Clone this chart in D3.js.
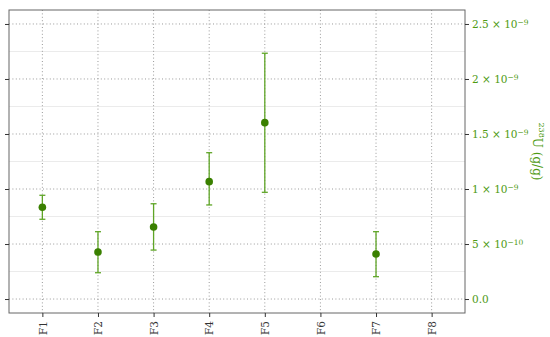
<!DOCTYPE html>
<html><head><meta charset="utf-8">
<script src="https://cdn.jsdelivr.net/npm/d3@7"></script>
<style>body{margin:0;background:#fff}svg{display:block}text{font-family:"DejaVu Serif","Liberation Serif",serif}</style>
</head><body><svg id="c" width="550" height="337"></svg>
<script>
const categories = ["F1","F2","F3","F4","F5","F6","F7","F8"];
const values = [0.834e-9, 0.427e-9, 0.655e-9, 1.067e-9, 1.603e-9, null, 0.409e-9, null];
const upper  = [0.943e-9, 0.612e-9, 0.866e-9, 1.330e-9, 2.234e-9, null, 0.612e-9, null];
const lower  = [0.725e-9, 0.239e-9, 0.445e-9, 0.855e-9, 0.970e-9, null, 0.203e-9, null];
const yTicks = [0, 0.5e-9, 1e-9, 1.5e-9, 2e-9, 2.5e-9];
const yTickMant = ["0.0", "5", "1", "1.5", "2", "2.5"];
const yTickExp  = [null, "−10", "−9", "−9", "−9", "−9"];
const yMinor = [0.25e-9, 0.75e-9, 1.25e-9, 1.75e-9, 2.25e-9];

const svg = d3.select("#c");
const L = 9, R = 465, T = 10, B = 313;
const x = d3.scalePoint().domain(categories).range([L, R]).padding(0.6);
const y = d3.scaleLinear().domain([-0.127e-9, 2.627e-9]).range([B, T]);

const grid = svg.append("g");
grid.selectAll(".mn").data(yMinor).join("line")
  .attr("x1", L).attr("x2", R).attr("y1", d => y(d)).attr("y2", d => y(d))
  .attr("stroke", "#ebebeb").attr("stroke-width", 1);
grid.selectAll(".mj").data(yTicks).join("line")
  .attr("x1", L).attr("x2", R).attr("y1", d => y(d)).attr("y2", d => y(d))
  .attr("stroke", "#9a9a9a").attr("stroke-width", 1).attr("stroke-dasharray", "1,2.4");
grid.selectAll(".vx").data(categories).join("line")
  .attr("x1", d => x(d)).attr("x2", d => x(d)).attr("y1", T).attr("y2", B)
  .attr("stroke", "#9a9a9a").attr("stroke-width", 1).attr("stroke-dasharray", "1,2.4");

// frame
svg.append("rect").attr("x", L).attr("y", T).attr("width", R - L).attr("height", B - T)
  .attr("fill", "none").attr("stroke", "#666").attr("stroke-width", 1);

// left ticks (no labels)
const yl = svg.append("g").attr("transform", `translate(${L},0)`)
  .call(d3.axisLeft(y).tickValues(yTicks).tickSize(4).tickFormat(""));
yl.select(".domain").remove();
yl.selectAll("line").attr("stroke", "#333");

// right axis
const yr = svg.append("g").attr("transform", `translate(${R},0)`)
  .call(d3.axisRight(y).tickValues(yTicks).tickSize(4).tickFormat(""));
yr.select(".domain").remove();
yr.selectAll("line").attr("stroke", "#333");
yr.selectAll(".tick").each(function(d, i) {
  const t = d3.select(this).append("text").attr("x", 7).attr("dy", "0.35em")
    .attr("fill", "#4e9a12").attr("font-size", 10.5).attr("text-anchor", "start");
  t.append("tspan").text(yTickMant[i]);
  if (yTickExp[i]) {
    t.append("tspan").text(" × 10");
    t.append("tspan").attr("dy", "-0.45em").attr("font-size", 7.5).text(yTickExp[i]);
  }
});

// x axis
const xa = svg.append("g").attr("transform", `translate(0,${B})`)
  .call(d3.axisBottom(x).tickSize(4).tickFormat(""));
xa.select(".domain").remove();
xa.selectAll("line").attr("stroke", "#333");
xa.selectAll(".tick").append("text")
  .attr("transform", "translate(0,8) rotate(-90)")
  .attr("text-anchor", "end").attr("dy", "0.35em")
  .attr("fill", "#333").attr("font-size", 10.5)
  .text(d => d);

// y label
const lab = svg.append("text").attr("transform", `translate(535,${(T+B)/2 - 10}) rotate(90)`)
  .attr("text-anchor", "middle").attr("fill", "#4e9a12").attr("font-size", 12);
lab.append("tspan").attr("dy", "-0.45em").attr("font-size", 8).text("238");
lab.append("tspan").attr("dy", "0.45em").text("U (g/g)");

// error bars & points
const pts = categories.map((c, i) => ({c, v: values[i], hi: upper[i], lo: lower[i]})).filter(d => d.v != null);
const eb = svg.append("g").attr("stroke", "#5fa526").attr("stroke-width", 1.3);
eb.selectAll(".v").data(pts).join("line")
  .attr("x1", d => x(d.c)).attr("x2", d => x(d.c)).attr("y1", d => y(d.hi)).attr("y2", d => y(d.lo));
eb.selectAll(".h").data(pts).join("line")
  .attr("x1", d => x(d.c) - 3).attr("x2", d => x(d.c) + 3).attr("y1", d => y(d.hi)).attr("y2", d => y(d.hi));
eb.selectAll(".l").data(pts).join("line")
  .attr("x1", d => x(d.c) - 3).attr("x2", d => x(d.c) + 3).attr("y1", d => y(d.lo)).attr("y2", d => y(d.lo));
svg.append("g").selectAll("circle").data(pts).join("circle")
  .attr("cx", d => x(d.c)).attr("cy", d => y(d.v)).attr("r", 3.8).attr("fill", "#3a8000");
</script></body></html>
